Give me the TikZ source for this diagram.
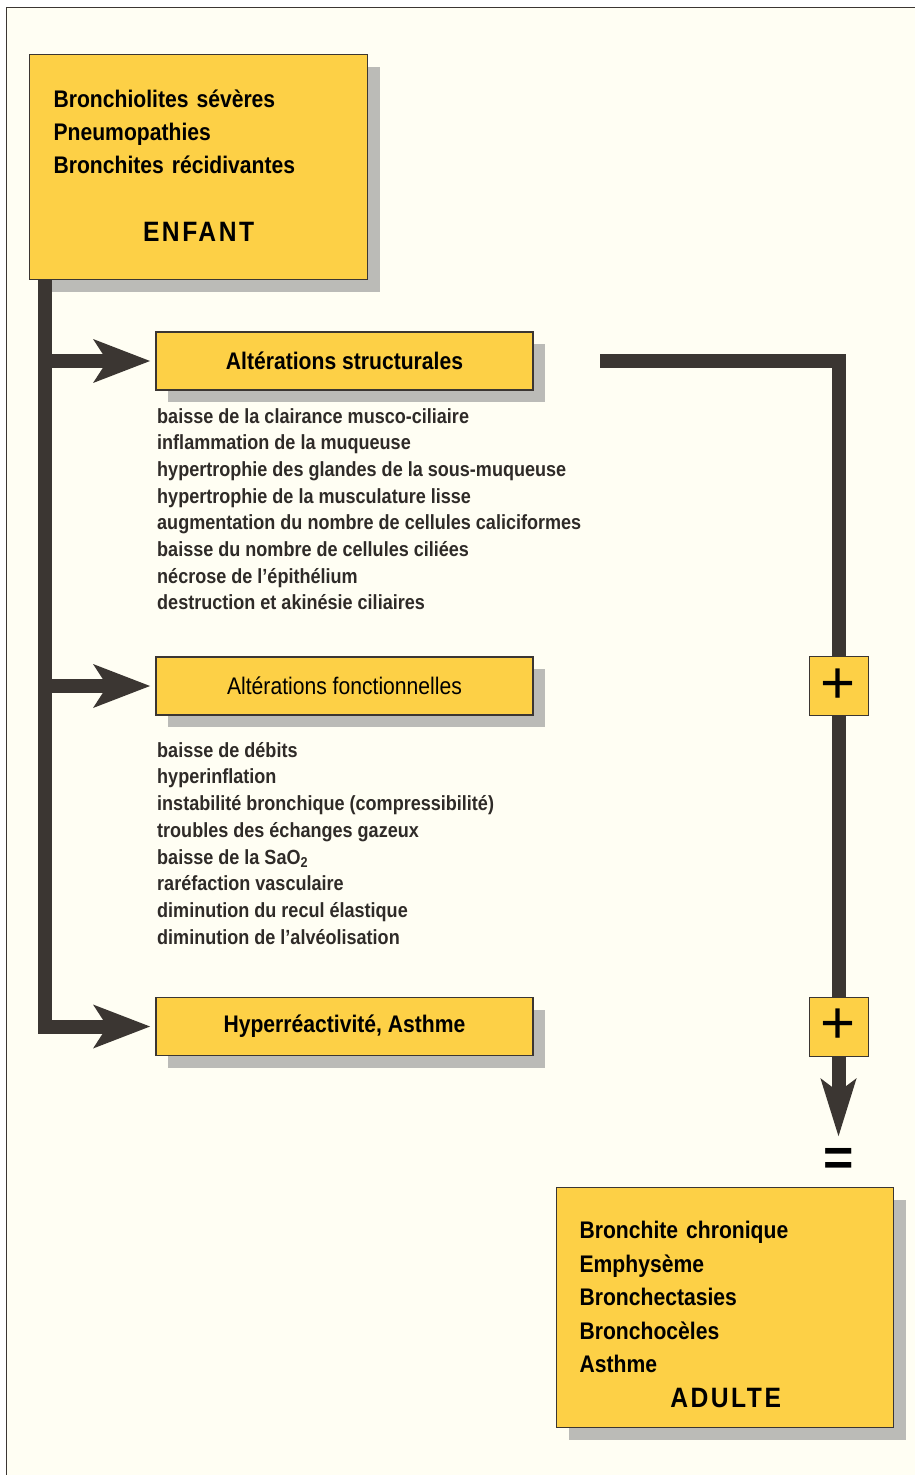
\documentclass[tikz,border=0pt]{standalone}
\usepackage{fontspec}
\setmainfont{Liberation Sans}[FakeStretch=0.88]
\newfontfamily\signes{Liberation Sans}
\usetikzlibrary{arrows.meta,shadows,positioning}
\definecolor{fondpage}{HTML}{FFFEF3}
\definecolor{jaune}{HTML}{FDD046}
\definecolor{barre}{HTML}{3B3632}
\definecolor{ombre}{HTML}{BBBBB7}
\newcommand{\age}[1]{{\fontsize{28}{33}\selectfont\addfontfeature{LetterSpace=9}#1}}
\begin{document}
\begin{tikzpicture}[x=1pt,y=-1pt,
  boite/.style={draw=barre, line width=1.2pt, fill=jaune, drop shadow={shadow xshift=12pt, shadow yshift=-12pt, fill=ombre, opacity=1}},
  titre/.style={boite, minimum width=377pt, minimum height=58pt, inner sep=0pt, font=\fontsize{24}{28}\selectfont\bfseries},
  grande/.style={boite, anchor=north west, inner sep=0pt, align=left, font=\fontsize{24}{33}\selectfont\bfseries},
  liste/.style={anchor=north west, align=left, inner sep=0pt, font=\fontsize{20.5}{26.7}\selectfont\bfseries, text=barre!80!black},
  signe/.style={draw=barre, line width=1pt, fill=jaune, minimum size=59pt, inner sep=0pt, font=\signes\fontsize{60}{60}\selectfont},
  barre/.style={line width=14pt, draw=barre},
  fleche/.style={barre, -{Stealth[length=56pt,width=42pt,inset=13pt]}, shorten >=5pt},
  flechebas/.style={barre, -{Stealth[length=57pt,width=34pt,inset=12pt]}}
]
\useasboundingbox (0,0) rectangle (915,1475);
\fill[white] (0,0) rectangle (915,1475);
\fill[fondpage, draw=barre, line width=1pt] (6,7) rectangle (930,1490);

% enfant
\node [grande, minimum width=338pt, minimum height=225pt, text width=290pt] (enfant) at (29,54)
  {Bronchiolites sévères\\Pneumopathies\\Bronchites récidivantes\\[35pt]
   \makebox[290pt][c]{\age{ENFANT}}\rule[-3pt]{0pt}{3pt}};

% les trois altérations
\node [titre] (struct) at (344.5,361) {Altérations structurales};
\node [liste] (liste1) at (157,408) {baisse de la clairance musco-ciliaire\\
  inflammation de la muqueuse\\
  hypertrophie des glandes de la sous-muqueuse\\
  hypertrophie de la musculature lisse\\
  augmentation du nombre de cellules caliciformes\\
  baisse du nombre de cellules ciliées\\
  nécrose de l’épithélium\\
  destruction et akinésie ciliaires};
\node [titre, font=\fontsize{24}{28}\selectfont\mdseries] (fonct) at (344.5,686) {Altérations fonctionnelles};
\node [liste] (liste2) at (157,742) {baisse de débits\\
  hyperinflation\\
  instabilité bronchique (compressibilité)\\
  troubles des échanges gazeux\\
  baisse de la SaO\textsubscript{2}\\
  raréfaction vasculaire\\
  diminution du recul élastique\\
  diminution de l’alvéolisation};
\node [titre] (hyper) at (344.5,1026.5) {Hyperréactivité, Asthme};

% plus et egal
\node [signe] (plus1) at (838.5,686) {+};
\node [signe] (plus2) at (838.5,1026.5) {+};
\node [font=\signes\bfseries\fontsize{52}{52}\selectfont, inner sep=0pt] (egal) at (838.5,1162) {=};

% adulte
\node [grande, minimum width=337pt, minimum height=240pt, text width=291pt,
       font=\fontsize{24}{33.5}\selectfont\bfseries] (adulte) at (556,1187)
  {\rule{0pt}{32pt}Bronchite chronique\\Emphysème\\Bronchectasies\\Bronchocèles\\Asthme\\[1.5pt]
   \makebox[292pt][c]{\age{ADULTE}}};

% barres
\coordinate (depart) at ([xshift=15.5pt]enfant.south west);
\coordinate (retour) at (600,360.5);
\draw [fleche] (depart) |- (hyper.west);
\draw [fleche] (struct.west -| depart) -- (struct.west);
\draw [fleche] (fonct.west -| depart) -- (fonct.west);
\draw [barre] (retour) -| (plus1.north);
\draw [barre] (plus1.south) -- (plus2.north);
\draw [flechebas] (plus2.south) -- ([yshift=25pt]egal.center);
\end{tikzpicture}
\end{document}
